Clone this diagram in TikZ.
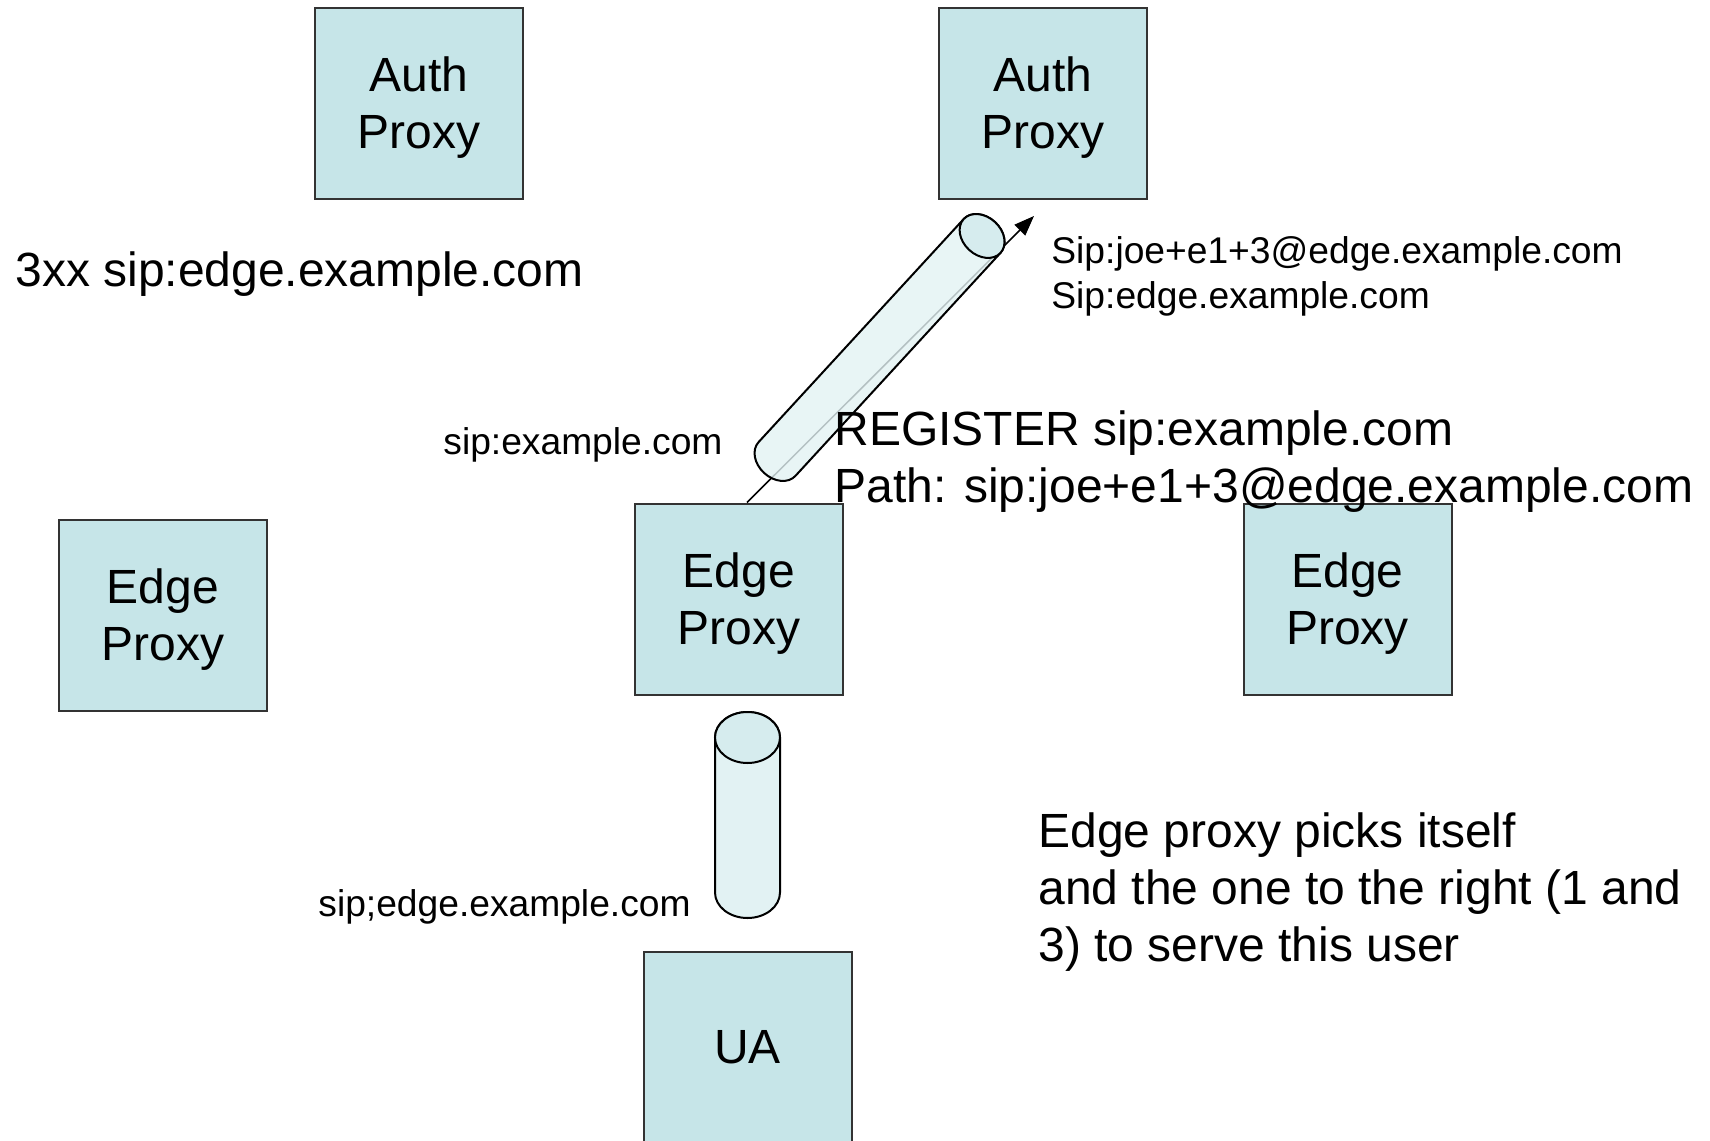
\documentclass[tikz,border=0pt]{standalone}
\usepackage{fontspec}
\setmainfont{Liberation Sans}
\usetikzlibrary{arrows.meta,calc}
\definecolor{boxfill}{HTML}{C6E5E8}
\definecolor{tubebody}{HTML}{E2F2F3}
\definecolor{tubecap}{HTML}{D6ECEE}
\newcommand{\bigtxt}{\fontsize{24}{28.5}\selectfont}
\newcommand{\smtxt}{\fontsize{18.6}{22.5}\selectfont}
\newcommand{\boxstrut}{\rule{0pt}{21.5pt}}
\begin{document}
\begin{tikzpicture}[x=0.5pt,y=-0.5pt,
  box/.style={draw=black!80, line width=1pt, fill=boxfill, minimum width=104pt,
    minimum height=95.5pt, inner sep=0pt, align=center, font=\bigtxt},
  lbl/.style={anchor=base west, inner sep=0pt, align=left},
  tubeline/.style={draw=black, line width=1pt},
  arrowline/.style={draw=black, line width=0.75pt, -{Triangle[length=10pt,width=7.5pt]}}]
\useasboundingbox (0,0) rectangle (1710,1141);
\clip (0,0) rectangle (1710,1141);
% boxes
\node[box] (auth1) at (419,103) {\boxstrut Auth\\Proxy};
\node[box] (auth2) at (1043,103) {\boxstrut Auth\\Proxy};
\node[box] (edgeL) at (163,615) {\boxstrut Edge\\Proxy};
\node[box] (edgeM) at (739,599) {\boxstrut Edge\\Proxy};
\node[box] (edgeR) at (1347.5,599) {\boxstrut Edge\\Proxy};
\node[box] (ua) at (747.5,1047) {UA};
% arrow
\coordinate (tip) at (1034,216);
\draw[arrowline] ($(edgeM.north)+(8,0)$) -- (tip);
% diagonal tube
\begin{scope}[shift={(777,459)}, rotate=47.4]
  \draw[tubeline, fill=tubebody, fill opacity=0.8] (303,-25)
    arc[start angle=-90, end angle=90, x radius=19, y radius=25] -- (0,25)
    arc[start angle=90, end angle=270, x radius=19, y radius=25] -- cycle;
  \draw[tubeline, fill=tubecap] (303,0) ellipse[x radius=19, y radius=25];
\end{scope}
% vertical tube
\begin{scope}[shift={(747.5,892.5)}, rotate=90]
  \draw[tubeline, fill=tubebody] (155,-32.5)
    arc[start angle=-90, end angle=90, x radius=25.5, y radius=32.5] -- (0,32.5)
    arc[start angle=90, end angle=270, x radius=25.5, y radius=32.5] -- cycle;
  \draw[tubeline, fill=tubecap] (155,0) ellipse[x radius=25.5, y radius=32.5];
\end{scope}
% texts (base anchor = baseline of the last line)
\node[lbl, font=\bigtxt] (t3xx) at (15,286) {3xx sip:edge.example.com};
\node[lbl, font=\bigtxt] (reg) at (834,502) {REGISTER sip:example.com\\Path: sip:joe+e1+3@edge.example.com};
\node[lbl, font=\smtxt] (sipjoe) at (1051,308) {Sip:joe+e1+3@edge.example.com\\Sip:edge.example.com};
\node[lbl, font=\smtxt] (sipex) at (443,454) {sip:example.com};
\node[lbl, font=\smtxt] (sipedge) at (318,916) {sip;edge.example.com};
\node[lbl, font=\bigtxt] (note) at (1038,961) {Edge proxy picks itself\\and the one to the right (1 and\\3) to serve this user};
\end{tikzpicture}
\end{document}
